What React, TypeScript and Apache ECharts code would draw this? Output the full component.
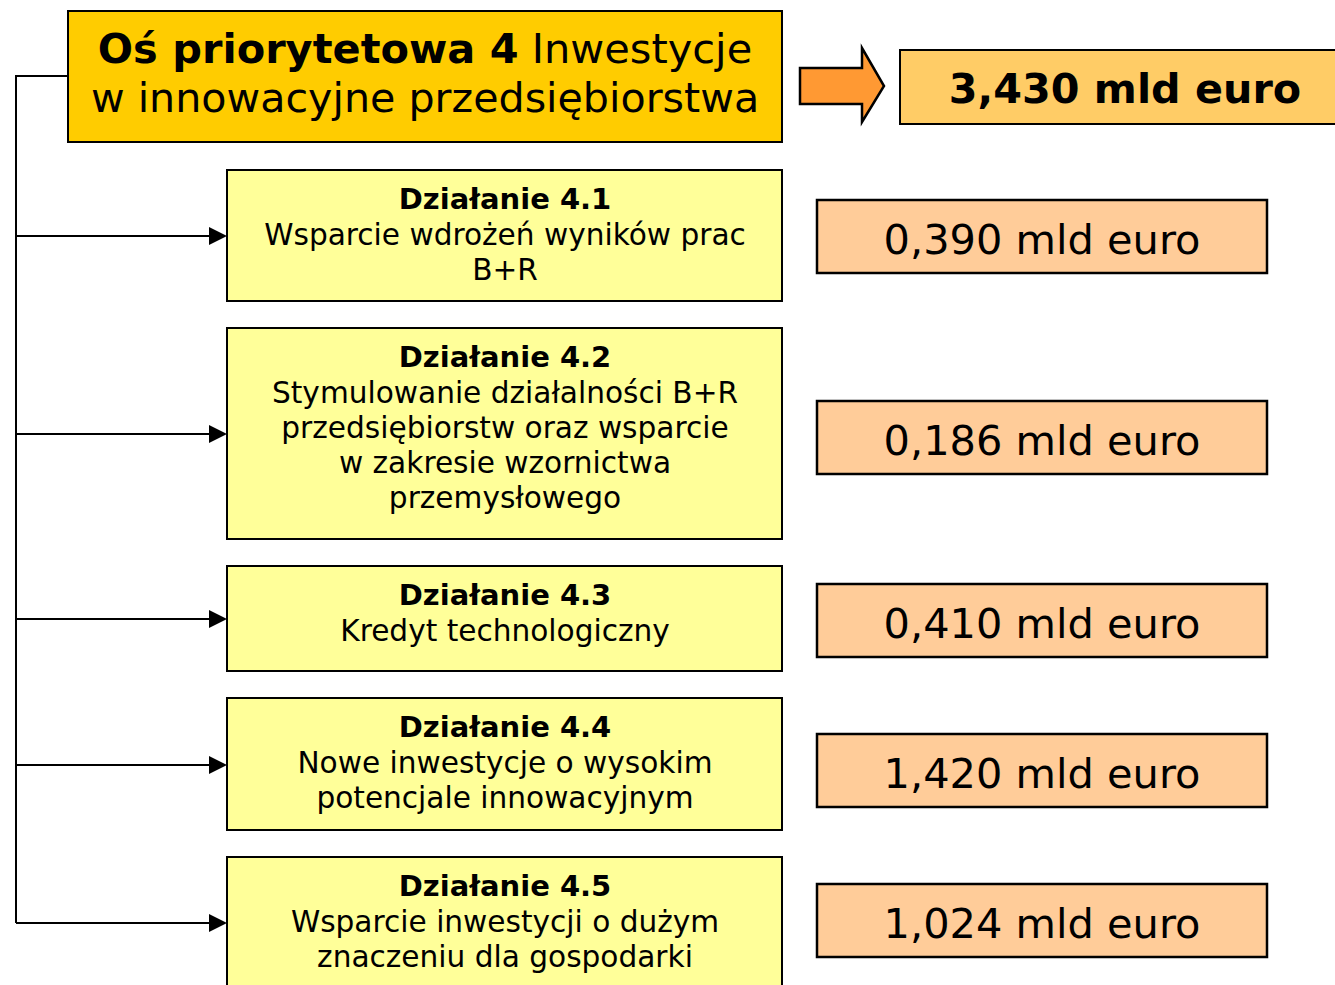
import React, { useEffect, useRef } from "react";
import * as echarts from "echarts";

const axisTitleBold = "Oś priorytetowa 4";
const axisTitleRest = "Inwestycje";
const axisTitleLine2 = "w innowacyjne przedsiębiorstwa";
const axisTotal = "3,430 mld euro";

const actionCodes = ["4.1", "4.2", "4.3", "4.4", "4.5"];
const actionDescs = [
  ["Wsparcie wdrożeń wyników prac", "B+R"],
  ["Stymulowanie działalności B+R", "przedsiębiorstw oraz wsparcie", "w zakresie wzornictwa", "przemysłowego"],
  ["Kredyt technologiczny"],
  ["Nowe inwestycje o wysokim", "potencjale innowacyjnym"],
  ["Wsparcie inwestycji o dużym", "znaczeniu dla gospodarki"],
];
const actionAmounts = ["0,390", "0,186", "0,410", "1,420", "1,024"];
const unit = "mld euro";

// layout (pixels)
const boxTops = [170, 328, 566, 698, 857];
const boxBottoms = [301, 539, 671, 830, 1000];
const arrowYs = [236, 434, 619, 765, 923];
const amountTops = [200, 401, 584, 734, 884];

const FONT = "DejaVu Sans, Verdana, sans-serif";

export default function App() {
  const ref = useRef<HTMLDivElement>(null);
  useEffect(() => {
    const chart = echarts.init(ref.current!, null, { renderer: "svg" });
    const els: any[] = [];
    els.push({
      type: "polyline",
      shape: { points: [[68, 76], [16, 76], [16, 923]] },
      style: { stroke: "#000", lineWidth: 2, fill: null },
      z: 1,
    });
    els.push({
      type: "rect",
      shape: { x: 68, y: 11, width: 714, height: 131 },
      style: { fill: "#FFCC00", stroke: "#000", lineWidth: 2 },
      z: 2,
    });
    els.push({
      type: "text",
      x: 425,
      y: 48,
      style: {
        text: "{b|" + axisTitleBold + "} " + axisTitleRest,
        rich: { b: { fontWeight: "bold", fontSize: 41.5, fontFamily: FONT, fill: "#000" } },
        fontSize: 41.5,
        fontFamily: FONT,
        fill: "#000",
        align: "center",
        verticalAlign: "middle",
      },
      z: 3,
    });
    els.push({
      type: "text",
      x: 425,
      y: 98,
      style: { text: axisTitleLine2, fontSize: 41.2, fontFamily: FONT, fill: "#000", align: "center", verticalAlign: "middle" },
      z: 3,
    });
    els.push({
      type: "polygon",
      shape: { points: [[800, 68], [862, 68], [862, 48], [884, 86], [862, 122], [862, 104], [800, 104]] },
      style: { fill: "#FF9933", stroke: "#000", lineWidth: 2.5 },
      z: 2,
    });
    els.push({
      type: "rect",
      shape: { x: 900, y: 50, width: 440, height: 74 },
      style: { fill: "#FFCC66", stroke: "#000", lineWidth: 2 },
      z: 2,
    });
    els.push({
      type: "text",
      x: 1125,
      y: 89,
      style: { text: axisTotal, fontSize: 41.3, fontWeight: "bold", fontFamily: FONT, fill: "#000", align: "center", verticalAlign: "middle" },
      z: 3,
    });

    actionCodes.forEach((code, i) => {
      const top = boxTops[i];
      const bottom = boxBottoms[i];
      const lines = actionDescs[i];
      const textTop = top + 29;
      const ay = arrowYs[i];
      els.push({
        type: "line",
        shape: { x1: 16, y1: ay, x2: 212, y2: ay },
        style: { stroke: "#000", lineWidth: 2 },
        z: 1,
      });
      els.push({
        type: "polygon",
        shape: { points: [[209, ay - 9], [227, ay], [209, ay + 9]] },
        style: { fill: "#000" },
        z: 1,
      });
      els.push({
        type: "rect",
        shape: { x: 227, y: top, width: 555, height: bottom - top },
        style: { fill: "#FFFF99", stroke: "#000", lineWidth: 2 },
        z: 2,
      });
      els.push({
        type: "text",
        x: 505,
        y: textTop,
        style: { text: "Działanie " + code, fontSize: 29, fontWeight: "bold", fontFamily: FONT, fill: "#000", align: "center", verticalAlign: "middle" },
        z: 3,
      });
      lines.forEach((ln, j) => {
        els.push({
          type: "text",
          x: 505,
          y: textTop + 35 * (j + 1) + 1,
          style: { text: ln, fontSize: 29.6, fontFamily: FONT, fill: "#000", align: "center", verticalAlign: "middle" },
          z: 3,
        });
      });
      const at = amountTops[i];
      els.push({
        type: "rect",
        shape: { x: 817, y: at, width: 450, height: 73 },
        style: { fill: "#FFCC99", stroke: "#000", lineWidth: 2.5 },
        z: 2,
      });
      els.push({
        type: "text",
        x: 1042,
        y: at + 39,
        style: { text: actionAmounts[i] + " " + unit, fontSize: 41.5, fontFamily: FONT, fill: "#000", align: "center", verticalAlign: "middle" },
        z: 3,
      });
    });

    chart.setOption({ animation: false, backgroundColor: "#fff", graphic: { elements: els } });
    return () => chart.dispose();
  }, []);
  return <div ref={ref} style={{ position: "absolute", left: 0, top: 0, width: 1335, height: 985 }} />;
}
